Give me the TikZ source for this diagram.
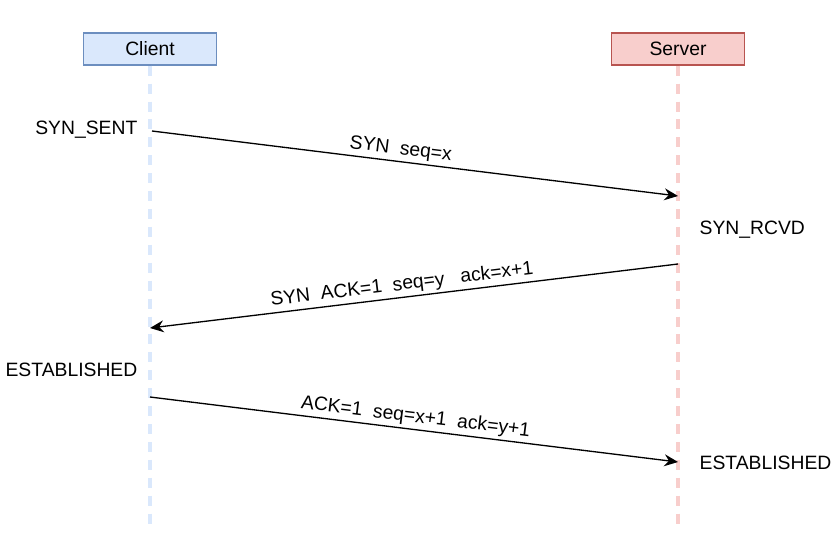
\documentclass[tikz,border=0pt]{standalone}
\usepackage{fontspec}
\setmainfont{Liberation Sans}
\usetikzlibrary{positioning, arrows.meta}
\definecolor{clblue}{HTML}{DAE8FC}
\definecolor{clbluedraw}{HTML}{6C8EBF}
\definecolor{svred}{HTML}{F8CECC}
\definecolor{svreddraw}{HTML}{B85450}

\begin{document}
\begin{tikzpicture}[x=0.02cm, y=-0.02cm, line width=0.75pt,
    hostbox/.style={minimum width=133*0.02cm, minimum height=32*0.02cm, inner sep=0pt, font=\fontsize{11}{13}\selectfont},
    lifeline/.style={line width=2.4pt, dash pattern=on 5.7pt off 4.5pt},
    msg/.style={-{Stealth[length=7.8pt, width=6.8pt, inset=2.6pt]}},
    msglabel/.style={sloped, above, inner sep=1.5pt, font=\fontsize{11}{13}\selectfont},
    state/.style={font=\fontsize{11}{13}\selectfont, inner sep=0pt}]
    \useasboundingbox[fill=white] (0,0) rectangle (839,542);

    % hosts and lifelines
    \node[hostbox, draw=clbluedraw, fill=clblue] (client) at (150,49) {Client};
    \node[hostbox, draw=svreddraw, fill=svred] (server) at (678,49) {Server};
    \coordinate (clientend) at (150,530);
    \coordinate (serverend) at (678,530);
    \draw[lifeline, clblue] (client.south) -- (clientend);
    \draw[lifeline, svred] (server.south) -- (serverend);

    % message end points
    \coordinate (c1) at (152,131);
    \coordinate (s1) at (678,196);
    \coordinate (s2) at (678,264);
    \coordinate (c2) at (150,328);
    \coordinate (c3) at (150,397);
    \coordinate (s3) at (678,462);

    \draw[msg] (c1) -- node[msglabel, pos=0.47] {SYN\ \ seq=x} (s1);
    \draw[msg] (s2) -- node[msglabel, pos=0.52] {SYN\ \ ACK=1\ \ seq=y\ \ \ ack=x+1} (c2);
    \draw[msg] (c3) -- node[msglabel, pos=0.5] {ACK=1\ \ seq=x+1\ \ ack=y+1} (s3);

    % states
    \node[state, anchor=east] (synsent) at (138,130) {SYN\_SENT};
    \node[state, anchor=west] (synrcvd) at (699,230) {SYN\_RCVD};
    \node[state, anchor=east] (cestab) at (138,370) {ESTABLISHED};
    \node[state, anchor=west] (sestab) at (699,463) {ESTABLISHED};
\end{tikzpicture}
\end{document}
